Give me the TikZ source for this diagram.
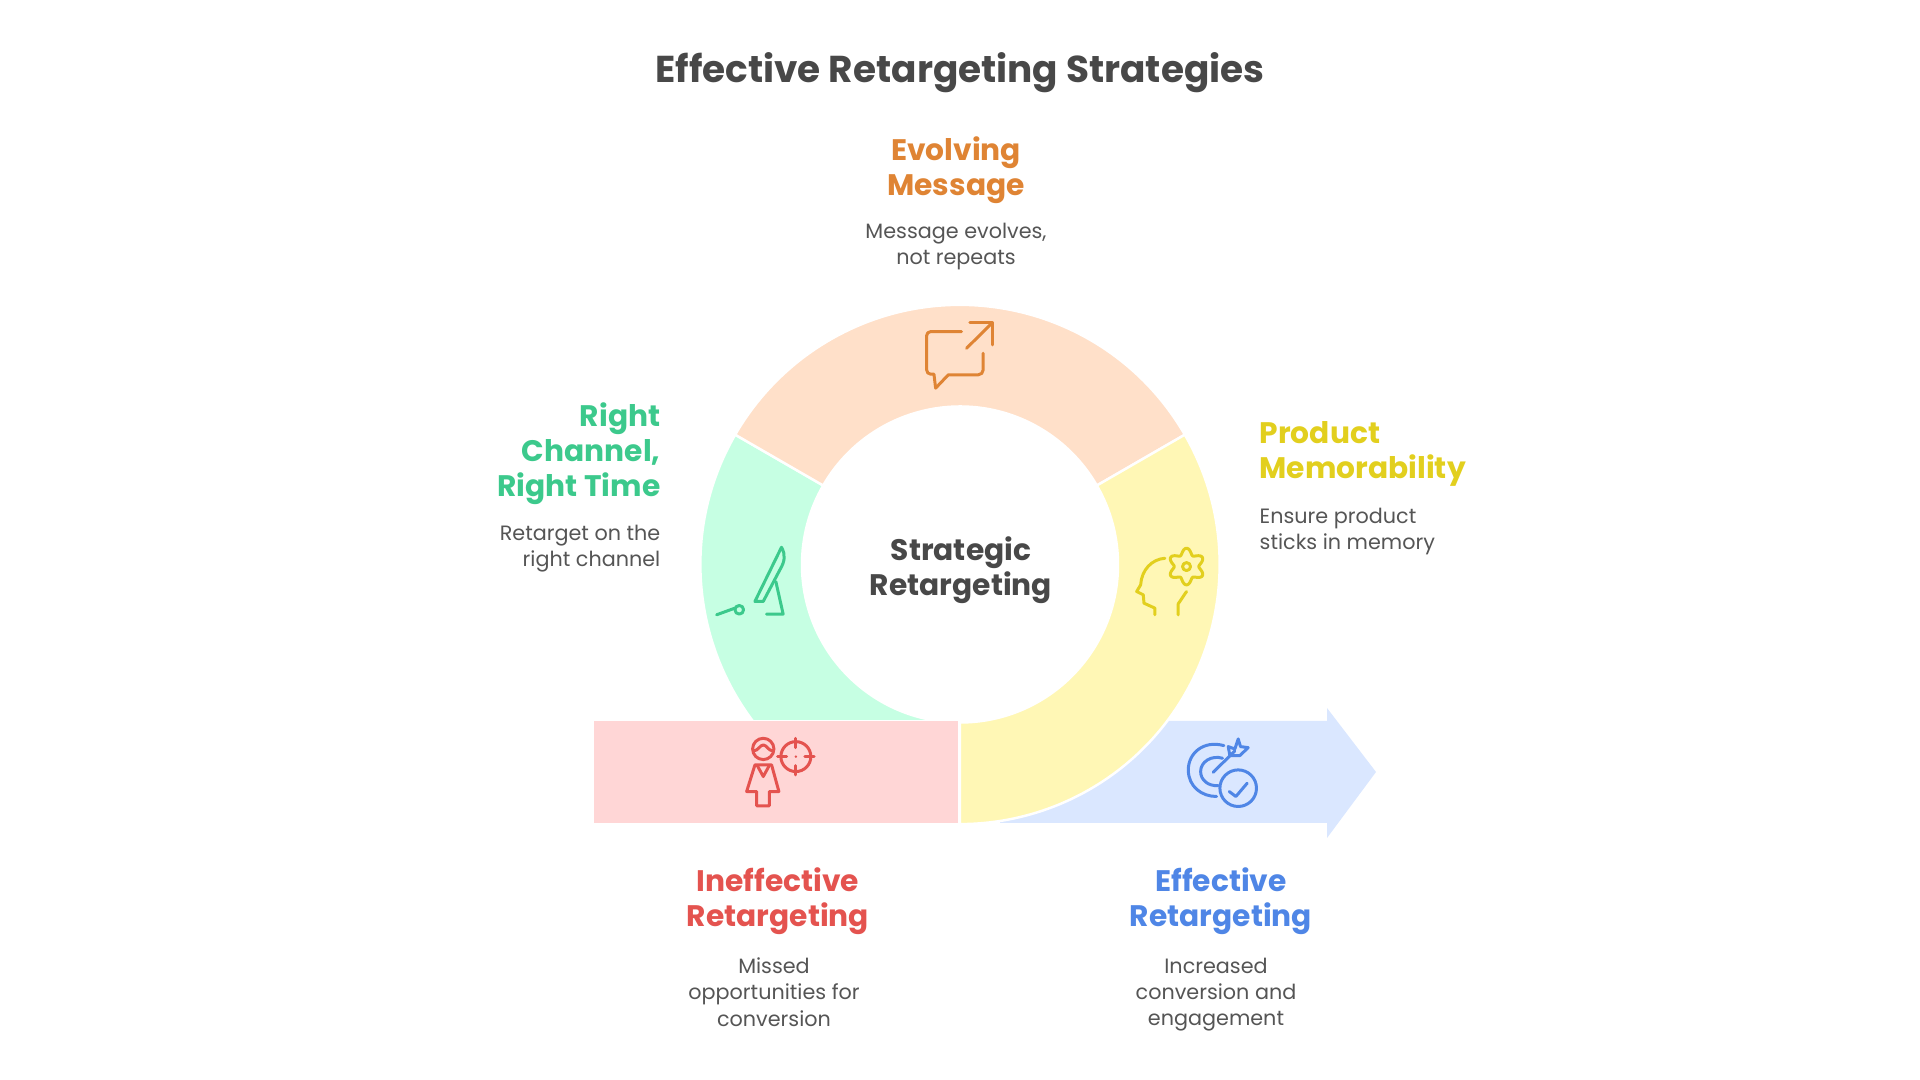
\documentclass[tikz,border=0pt]{standalone}
\usepackage{fontspec}
\usetikzlibrary{calc}
\setmainfont{Poppins}
\definecolor{inkdark}{HTML}{484848}
\definecolor{inkbody}{HTML}{555555}
\definecolor{orangeink}{HTML}{DF8434}
\definecolor{orangefill}{HTML}{FFE0C9}
\definecolor{greenink}{HTML}{3CC98C}
\definecolor{greenfill}{HTML}{C6FFE3}
\definecolor{yellowink}{HTML}{E2CF1E}
\definecolor{yellowfill}{HTML}{FFF7B5}
\definecolor{redink}{HTML}{E4534F}
\definecolor{redfill}{HTML}{FFD6D6}
\definecolor{blueink}{HTML}{4F86E6}
\definecolor{bluefill}{HTML}{DAE7FF}
\tikzset{
  headline/.style={font=\fontsize{8.45}{9.95}\selectfont\bfseries,align=center,inner sep=0pt},
  subline/.style={font=\fontsize{5.9}{7.5}\selectfont,text=inkbody,align=center,inner sep=0pt},
  segment/.style={draw=white,line width=0.7pt},
  icon/.style={line width=0.85pt,line cap=round,line join=round},
  crop/.style 2 args={shift={(#1,#2)},x=0.003333cm,y=-0.003333cm}
}
\begin{document}
\begin{tikzpicture}
  \useasboundingbox (0,0) rectangle (19.2,10.8);
  \coordinate (C) at (9.6,5.155);

  % arrow and band
  \fill[bluefill] (10,3.59) -- (13.27,3.59) -- (13.27,3.72) -- (13.76,3.08) -- (13.27,2.42) -- (13.27,2.57) -- (10,2.57) -- cycle;

  % ring
  \begin{scope}
    \clip (0,3.60) rectangle (19.2,10.8);
    \draw[segment,fill=greenfill] (C) ++(150:2.596) arc (150:270:2.596) -- ++(0,1.016) arc (270:150:1.58) -- cycle;
  \end{scope}
  \draw[segment,fill=orangefill] (C) ++(30:2.596) arc (30:150:2.596) -- ($(C)+(150:1.58)$) arc (150:30:1.58) -- cycle;
  \draw[segment,fill=yellowfill] (C) ++(30:2.596) arc (30:-90:2.596) -- ++(0,1.016) arc (-90:30:1.58) -- cycle;
  \fill[redfill] (5.94,2.57) rectangle (9.58,3.59);

  % message icon
  \begin{scope}[crop={9.10}{7.70},icon,orangeink]
    \draw (155,65) -- (62,65) to[out=180,in=90] (50,77) -- (50,180) to[out=-90,in=180] (62,193) -- (72,193) -- (77,235) -- (115,195) -- (205,195) to[out=0,in=-90] (220,180) -- (220,130);
    \draw (170,115) -- (248,38);
    \draw (180,38) -- (248,38) -- (248,105);
  \end{scope}

  % head icon
  \begin{scope}[crop={11.20}{5.50},icon,yellowink]
    \draw (135,85) .. controls (95,88) and (65,120) .. (62,165) -- (50,185) -- (70,195) -- (72,220) -- (105,235) -- (105,255);
    \draw (175,255) -- (175,222) -- (200,185);
    \draw plot[domain=0:360,samples=121,smooth] ({200+(46-9*cos(6*\x))*cos(\x)},{110+(46-9*cos(6*\x))*sin(\x)}) -- cycle;
    \draw (200,110) circle (12);
  \end{scope}

  % screen icon
  \begin{scope}[crop={7.00}{5.60},icon,greenink]
    \draw (245,82) .. controls (258,105) and (255,125) .. (240,150) -- (190,245) -- (165,245) -- cycle;
    \draw (228,185) -- (250,283) -- (200,283);
    \draw (50,285) -- (105,265);
    \draw (118,270) circle (13);
  \end{scope}

  % person icon
  \begin{scope}[crop={7.30}{3.55},icon,redink]
    \draw (100,72) circle (32);
    \draw (70,78) .. controls (85,78) and (90,60) .. (100,60) .. controls (110,60) and (115,78) .. (130,78);
    \draw (75,120) -- (125,120) -- (147,200) -- (118,200) -- (118,243) -- (80,243) -- (80,200) -- (50,200) -- cycle;
    \draw (82,122) -- (100,155) -- (118,122);
    \draw (198,95) circle (45);
    \draw (143,95) -- (170,95);
    \draw (225,95) -- (253,95);
    \draw (198,40) -- (198,68);
    \draw (198,122) -- (198,150);
    \fill (198,95) circle (4);
  \end{scope}

  % target icon
  \begin{scope}[crop={11.70}{3.55},icon,blueink]
    \draw (162,62) .. controls (100,45) and (55,85) .. (55,135) .. controls (55,185) and (95,215) .. (140,215);
    \draw (158,100) .. controls (125,90) and (92,110) .. (92,140) .. controls (92,165) and (115,185) .. (145,182);
    \draw (130,142) -- (195,78);
    \draw (180,92) -- (175,65) -- (195,72) -- (205,42) -- (212,65) -- (235,68) -- (210,92) -- cycle;
    \draw (205,190) circle (55);
    \draw (178,200) -- (198,215) -- (232,175);
  \end{scope}

  % texts
  \node[headline,text=inkdark,font=\fontsize{10.65}{12}\selectfont\bfseries] (title) at (9.6,10.07) {Effective Retargeting Strategies};
  \node[headline,text=inkdark] (center) at (9.61,5.10) {Strategic\\Retargeting};

  \node[headline,text=orangeink] (evolving) at (9.56,9.10) {Evolving\\Message};
  \node[subline] (evolvingsub) at (9.56,8.335) {Message evolves,\\not repeats};

  \node[headline,text=greenink,align=right,anchor=east] (channel) at (6.61,6.26) {Right\\Channel,\\Right Time};
  \node[subline,align=right,anchor=east] (channelsub) at (6.61,5.315) {Retarget on the\\right channel};

  \node[headline,text=yellowink,align=left,anchor=west] (product) at (12.59,6.26) {Product\\Memorability};
  \node[subline,align=left,anchor=west] (productsub) at (12.59,5.485) {Ensure product\\sticks in memory};

  \node[headline,text=redink] (ineffective) at (7.78,1.79) {Ineffective\\Retargeting};
  \node[subline] (ineffectivesub) at (7.74,0.88) {Missed\\opportunities for\\conversion};

  \node[headline,text=blueink] (effective) at (12.21,1.79) {Effective\\Retargeting};
  \node[subline] (effectivesub) at (12.16,0.855) {Increased\\conversion and\\engagement};
\end{tikzpicture}
\end{document}
